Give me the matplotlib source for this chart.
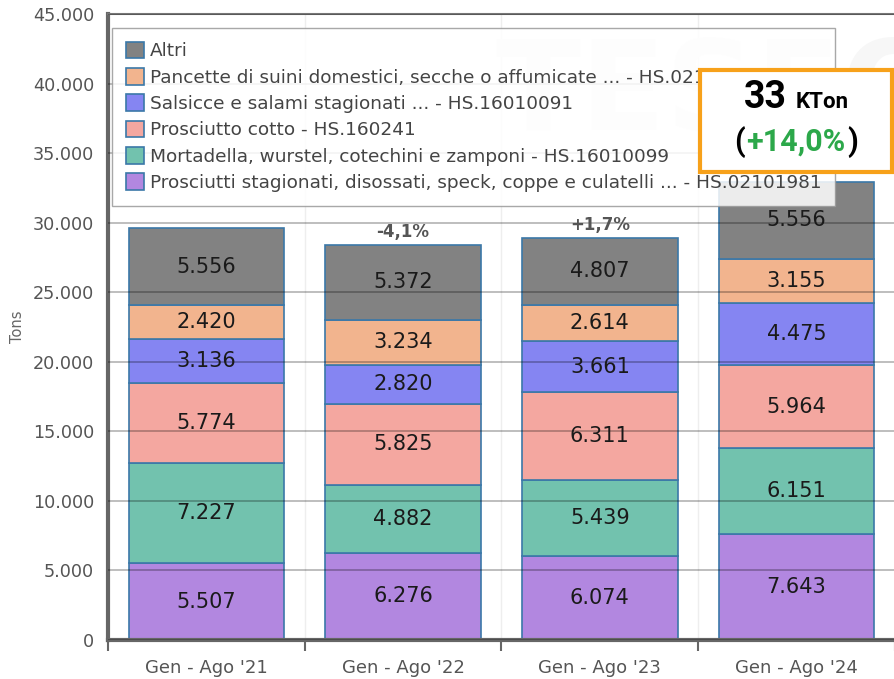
import matplotlib.pyplot as plt
from matplotlib.patches import Rectangle
from matplotlib.offsetbox import TextArea, HPacker, AnnotationBbox
from matplotlib.ticker import FuncFormatter
import numpy as np

plt.rcParams["font.family"] = ["DejaVu Sans"]

periods = ["Gen - Ago '21", "Gen - Ago '22", "Gen - Ago '23", "Gen - Ago '24"]

# stacked from bottom to top
series = [
    "Prosciutti stagionati, disossati, speck, coppe e culatelli ... - HS.02101981",
    "Mortadella, wurstel, cotechini e zamponi - HS.16010099",
    "Prosciutto cotto - HS.160241",
    "Salsicce e salami stagionati ... - HS.16010091",
    "Pancette di suini domestici, secche o affumicate ... - HS.02101951",
    "Altri",
]
prosciutti = [5507, 6276, 6074, 7643]
mortadella = [7227, 4882, 5439, 6151]
cotto = [5774, 5825, 6311, 5964]
salsicce = [3136, 2820, 3661, 4475]
pancette = [2420, 3234, 2614, 3155]
altri = [5556, 5372, 4807, 5556]
changes = [None, "-4,1%", "+1,7%", None]

colors = ["#b287e0", "#72c2ae", "#f4a7a0", "#8585f2", "#f2b48e", "#828282"]

values = [prosciutti, mortadella, cotto, salsicce, pancette, altri]

fig = plt.figure(figsize=(8.95, 6.79), dpi=100)
ax = fig.add_axes([108 / 895, 1 - 640 / 679, 1 - 108 / 895, 626 / 679])

x = np.arange(len(periods))
bottom = np.zeros(len(periods))
handles = []
for name, vals, col in zip(series, values, colors):
    bars = ax.bar(x, vals, bottom=bottom, width=0.79, color=col,
                  edgecolor="#3b78a8", linewidth=1.2, label=name, zorder=2)
    handles.append(bars)
    for xi, v, b in zip(x, vals, bottom):
        ax.text(xi, b + v / 2, f"{v:,}".replace(",", "."), ha="center",
                va="center", fontsize=15, color="#1a1a1a", zorder=4)
    bottom += np.array(vals)

for xi, tot, ch in zip(x, bottom, changes):
    if ch:
        ax.text(xi, tot + 300, ch, ha="center", va="bottom", fontsize=12,
                fontweight="bold", color="#555555", zorder=4)

ax.set_xlim(-0.5, 3.5)
ax.set_ylim(0, 45000)
ax.set_yticks(np.arange(0, 45001, 5000))
ax.yaxis.set_major_formatter(FuncFormatter(lambda v, p: f"{int(v):,}".replace(",", ".")))
ax.set_xticks(x)
ax.set_xticklabels(periods)
ax.set_xticks(np.arange(-0.5, 3.6, 1), minor=True)
ax.tick_params(axis="x", which="major", length=0, pad=14, labelsize=13, labelcolor="#555555")
ax.tick_params(axis="x", which="minor", length=8, width=1.5, color="#666666")
ax.tick_params(axis="y", length=0, pad=10, labelsize=12.7, labelcolor="#555555")
ax.set_ylabel("Tons", fontsize=10.5, color="#666666", labelpad=6)

ax.grid(axis="y", color="#000000", alpha=0.3, linewidth=1.2, zorder=3)
ax.set_axisbelow(False)
for xb in np.arange(0.5, 3.5, 1):
    ax.axvline(xb, color="#eeeeee", linewidth=1, zorder=0)

for s in ["left", "bottom"]:
    ax.spines[s].set_color("#666666")
    ax.spines[s].set_linewidth(3)
ax.spines["top"].set_color("#777777")
ax.spines["top"].set_linewidth(1.5)
ax.spines["right"].set_visible(False)

# faint watermark
ax.text(0.78, 0.87, "TESEO", transform=ax.transAxes, ha="center", va="center",
        fontsize=90, fontweight="bold", color="#f7f7f7", zorder=0)

leg = ax.legend(handles[::-1], series[::-1], loc="upper left",
                bbox_to_anchor=(0.005, 0.978), borderaxespad=0, fontsize=13.3,
                frameon=True, fancybox=False, framealpha=0.85, edgecolor="#999999",
                handlelength=1.0, handleheight=1.0, handletextpad=0.3,
                labelspacing=0.42, borderpad=0.75)
leg.set_zorder(5)
for t in leg.get_texts():
    t.set_color("#444444")

# highlight box
fig.patches.append(Rectangle((700 / 895, 1 - 172 / 679), 192 / 895, 102 / 679,
                             transform=fig.transFigure, facecolor="white",
                             edgecolor="#f7a11a", linewidth=3, zorder=10))
bold = dict(fontweight="bold", family="Roboto")
row1 = HPacker(children=[
    TextArea("33", textprops=dict(fontsize=27, color="black", **bold)),
    TextArea("KTon", textprops=dict(fontsize=16, color="black", **bold)),
], align="baseline", pad=0, sep=6)
row2 = HPacker(children=[
    TextArea("(", textprops=dict(fontsize=22, color="black", **bold)),
    TextArea("+14,0%", textprops=dict(fontsize=22, color="#2ca84a", **bold)),
    TextArea(")", textprops=dict(fontsize=22, color="black", **bold)),
], align="baseline", pad=0, sep=1)
for row, yy in [(row1, 1 - 97 / 679), (row2, 1 - 142 / 679)]:
    ab = AnnotationBbox(row, (796 / 895, yy), xycoords="figure fraction",
                        frameon=False, box_alignment=(0.5, 0.5), zorder=11)
    fig.add_artist(ab)

fig.savefig("out.png", dpi=100)
